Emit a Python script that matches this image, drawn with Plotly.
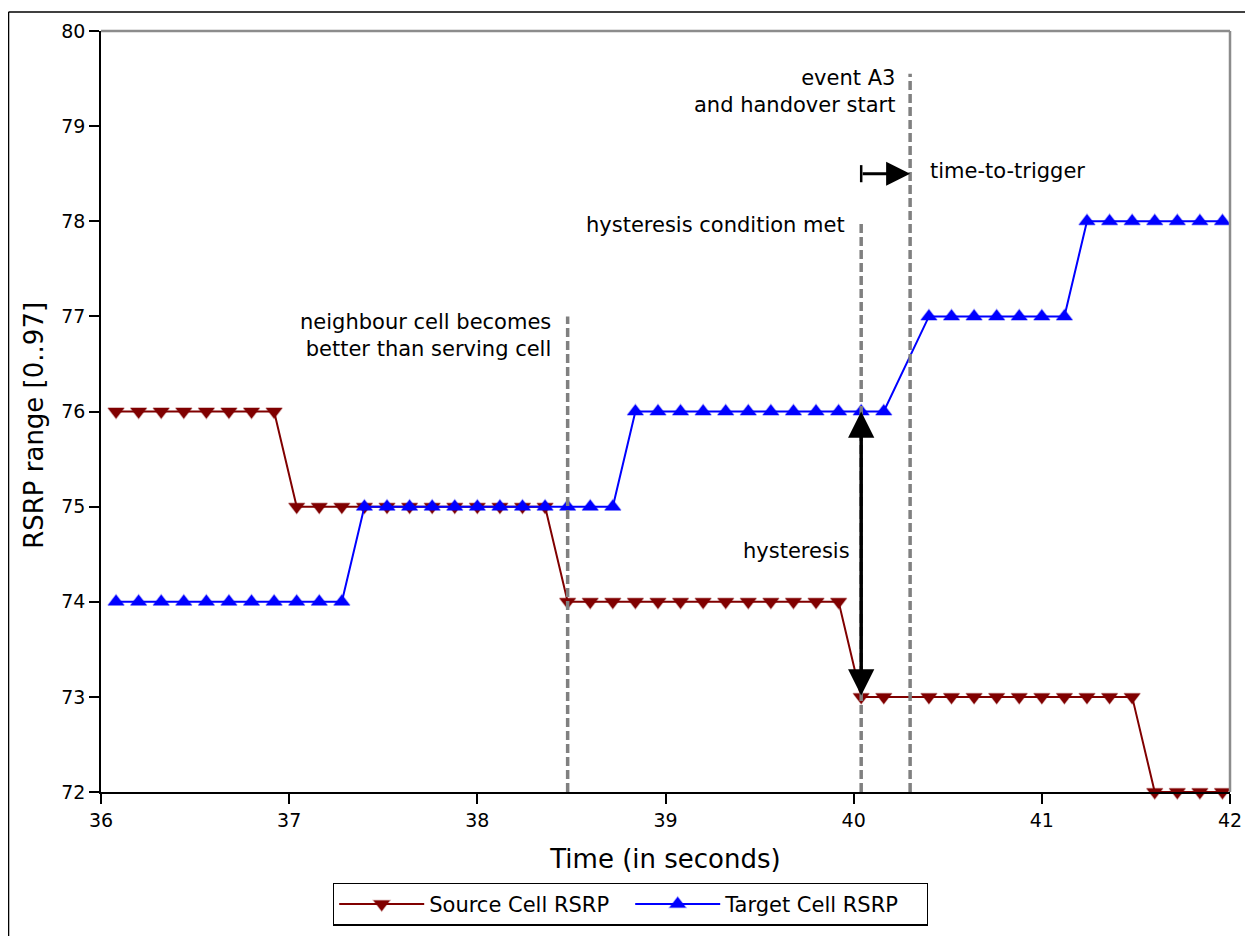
import plotly.graph_objects as go

# ---- data ----
source_t = [36.08, 36.20, 36.32, 36.44, 36.56, 36.68, 36.80, 36.92,
            37.04, 37.16, 37.28, 37.40, 37.52, 37.64, 37.76, 37.88, 38.00, 38.12, 38.24, 38.36,
            38.48, 38.60, 38.72, 38.84, 38.96, 39.08, 39.20, 39.32, 39.44, 39.56, 39.68, 39.80, 39.92,
            40.04, 40.16, 40.40, 40.52, 40.64, 40.76, 40.88, 41.00, 41.12, 41.24, 41.36, 41.48,
            41.60, 41.72, 41.84, 41.96]
source_rsrp = [76, 76, 76, 76, 76, 76, 76, 76,
               75, 75, 75, 75, 75, 75, 75, 75, 75, 75, 75, 75,
               74, 74, 74, 74, 74, 74, 74, 74, 74, 74, 74, 74, 74,
               73, 73, 73, 73, 73, 73, 73, 73, 73, 73, 73, 73,
               72, 72, 72, 72]

target_t = [36.08, 36.20, 36.32, 36.44, 36.56, 36.68, 36.80, 36.92, 37.04, 37.16, 37.28,
            37.40, 37.52, 37.64, 37.76, 37.88, 38.00, 38.12, 38.24, 38.36, 38.48, 38.60, 38.72,
            38.84, 38.96, 39.08, 39.20, 39.32, 39.44, 39.56, 39.68, 39.80, 39.92, 40.04, 40.16,
            40.40, 40.52, 40.64, 40.76, 40.88, 41.00, 41.12,
            41.24, 41.36, 41.48, 41.60, 41.72, 41.84, 41.96]
target_rsrp = [74, 74, 74, 74, 74, 74, 74, 74, 74, 74, 74,
               75, 75, 75, 75, 75, 75, 75, 75, 75, 75, 75, 75,
               76, 76, 76, 76, 76, 76, 76, 76, 76, 76, 76, 76,
               77, 77, 77, 77, 77, 77, 77,
               78, 78, 78, 78, 78, 78, 78]

neighbour_better_t = 38.48
hysteresis_met_t = 40.04
event_a3_t = 40.30

x_ticks = [36, 37, 38, 39, 40, 41, 42]
y_ticks = [72, 73, 74, 75, 76, 77, 78, 79, 80]

FONT = "DejaVu Sans"

fig = go.Figure()
fig.add_trace(go.Scatter(
    x=source_t, y=source_rsrp, mode="lines+markers", name="Source Cell RSRP",
    line=dict(color="#800000", width=2),
    marker=dict(symbol="triangle-down", size=14, color="#800000",
                line=dict(color="rgba(128,0,0,0.35)", width=1.5)),
    cliponaxis=False))
fig.add_trace(go.Scatter(
    x=target_t, y=target_rsrp, mode="lines+markers", name="Target Cell RSRP",
    line=dict(color="#0000ff", width=2),
    marker=dict(symbol="triangle-up", size=14, color="#0000ff",
                line=dict(color="rgba(0,0,255,0.35)", width=1.5)),
    cliponaxis=False))

dash_style = dict(color="#808080", width=3.5, dash="9px,4px")
shapes = [
    dict(type="line", xref="x", yref="y", x0=neighbour_better_t, x1=neighbour_better_t, y0=72, y1=77.0, line=dash_style),
    dict(type="line", xref="x", yref="y", x0=hysteresis_met_t, x1=hysteresis_met_t, y0=72, y1=78.0, line=dash_style),
    dict(type="line", xref="x", yref="y", x0=event_a3_t, x1=event_a3_t, y0=72, y1=79.55, line=dash_style),
    # time-to-trigger bar
    dict(type="line", xref="x", yref="y", x0=hysteresis_met_t, x1=hysteresis_met_t, y0=78.41, y1=78.59,
         line=dict(color="black", width=2.5)),
    # gray top/right spines
    dict(type="line", xref="paper", yref="paper", x0=0, x1=1, y0=1, y1=1, line=dict(color="#8c8c8c", width=2.5)),
    dict(type="line", xref="paper", yref="paper", x0=1, x1=1, y0=0, y1=1, line=dict(color="#8c8c8c", width=2.5)),
    # figure frame (top and left)
    dict(type="line", xref="paper", yref="paper", x0=-0.0819, x1=1.0275, y0=1.0249, y1=1.0249, line=dict(color="black", width=1.5)),
    dict(type="line", xref="paper", yref="paper", x0=-0.0819, x1=-0.0819, y0=1.0249, y1=-0.199, line=dict(color="black", width=1.5)),
]

tf = dict(family=FONT, size=21, color="black")
annotations = [
    dict(x=38.40, y=76.80, xref="x", yref="y", text="neighbour cell becomes<br>better than serving cell",
         showarrow=False, xanchor="right", yanchor="middle", align="right", font=tf),
    dict(x=39.965, y=77.96, xref="x", yref="y", text="hysteresis condition met",
         showarrow=False, xanchor="right", yanchor="middle", align="right", font=tf),
    dict(x=40.23, y=79.36, xref="x", yref="y", text="event A3<br>and handover start",
         showarrow=False, xanchor="right", yanchor="middle", align="right", font=tf),
    dict(x=40.395, y=78.53, xref="x", yref="y", text="time-to-trigger",
         showarrow=False, xanchor="left", yanchor="middle", align="left", font=tf),
    dict(x=39.99, y=74.53, xref="x", yref="y", text="hysteresis",
         showarrow=False, xanchor="right", yanchor="middle", align="right", font=tf),
    # y axis title
    dict(x=-0.0593, y=75.85, xref="paper", yref="y", text="RSRP range [0..97]", textangle=-90,
         showarrow=False, xanchor="center", yanchor="middle", font=dict(family=FONT, size=26, color="black")),
    # hysteresis double arrow
    dict(x=hysteresis_met_t, y=76, ax=hysteresis_met_t, ay=73, xref="x", yref="y", axref="x", ayref="y",
         text="", showarrow=True, arrowhead=2, startarrowhead=2, arrowside="end+start",
         arrowwidth=3.5, arrowsize=1.5, startarrowsize=1.5, arrowcolor="black", standoff=0, startstandoff=0),
    # time-to-trigger arrow
    dict(x=event_a3_t, y=78.5, ax=hysteresis_met_t, ay=78.5, xref="x", yref="y", axref="x", ayref="y",
         text="", showarrow=True, arrowhead=2, arrowside="end",
         arrowwidth=3, arrowsize=1.6, arrowcolor="black", standoff=0),
]

fig.update_layout(
    width=1253, height=936,
    margin=dict(l=93, r=31, t=20, b=152),
    paper_bgcolor="white", plot_bgcolor="white",
    font=dict(family=FONT, color="black"),
    shapes=shapes, annotations=annotations,
    showlegend=True,
    legend=dict(orientation="h", x=0.469, xanchor="center", y=-0.1191, yanchor="top",
                bordercolor="black", borderwidth=1.2, font=dict(family=FONT, size=21, color="black"),
                bgcolor="white", itemwidth=85, entrywidth=196, entrywidthmode="pixels"),
    xaxis=dict(range=[36, 42], tickvals=x_ticks, ticktext=[str(v) for v in x_ticks],
               showgrid=False, zeroline=False, showline=True, linecolor="black", linewidth=1.5,
               ticks="outside", ticklen=10, tickwidth=1.5, tickcolor="black",
               tickfont=dict(family=FONT, size=19, color="black"),
               title=dict(text="Time (in seconds)", font=dict(family=FONT, size=26, color="black"), standoff=20)),
    yaxis=dict(range=[72, 80], tickvals=y_ticks, ticktext=[str(v) for v in y_ticks],
               showgrid=False, zeroline=False, showline=True, linecolor="black", linewidth=1.5,
               ticks="outside", ticklen=10, tickwidth=1.5, tickcolor="black",
               tickfont=dict(family=FONT, size=19, color="black")),
)

fig.write_html("out.html")
